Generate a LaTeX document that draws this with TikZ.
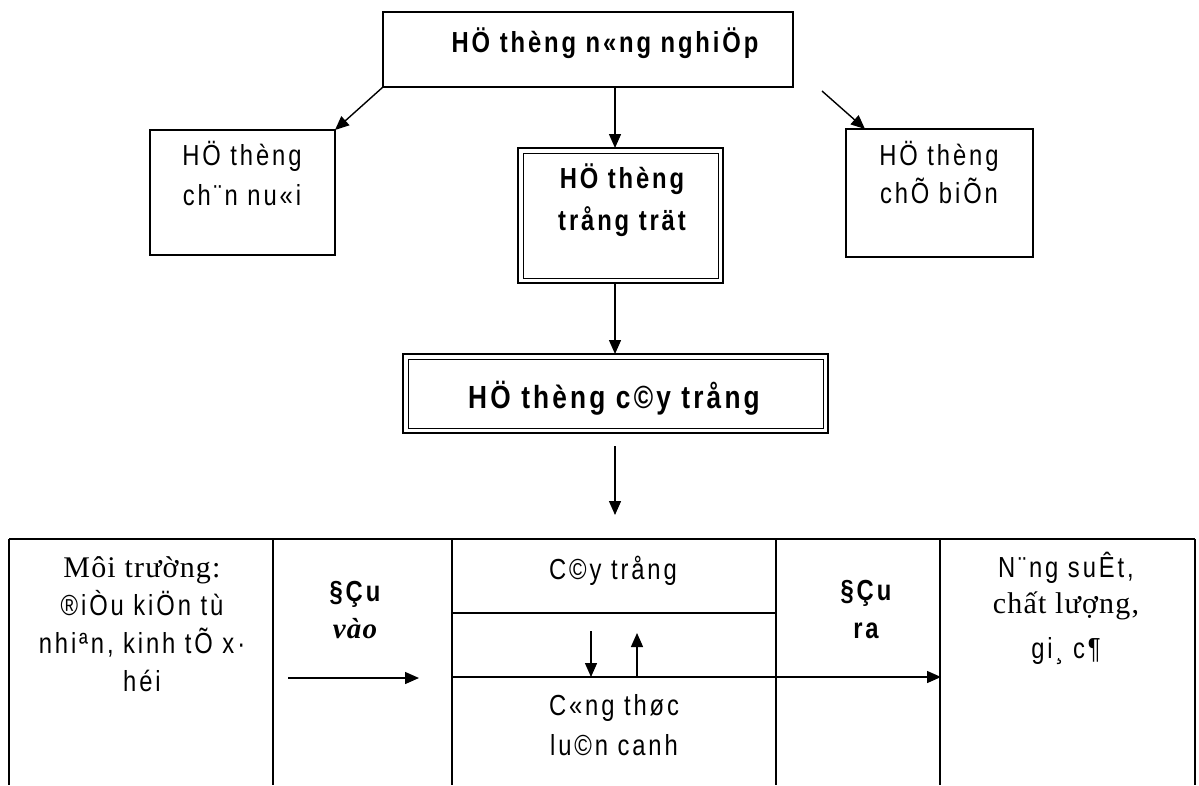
\documentclass[tikz,border=0pt]{standalone}
\usepackage{fontspec}
\setmainfont{Liberation Serif}
\newfontfamily\vnsans[FakeStretch=0.82,LetterSpace=10]{Liberation Sans}
\newfontfamily\vnserif[LetterSpace=4]{Liberation Serif}
\usetikzlibrary{arrows.meta,calc}
\tikzset{
  box/.style={draw, line width=1.5pt, inner sep=0pt, outer sep=0pt},
  dboxo/.style={draw, line width=2.4pt, inner sep=0pt, outer sep=0pt},
  dboxi/.style={line width=1pt},
  arr/.style={line width=1.4pt, -{Triangle[length=14pt,width=12pt]}},
  tline/.style={line width=1.5pt},
  txt/.style={anchor=base, inner sep=0pt, outer sep=0pt},
  sansr/.style={txt, font=\vnsans\fontsize{29}{34}\selectfont},
  sansb/.style={txt, font=\vnsans\bfseries\fontsize{29}{34}\selectfont},
  sansbig/.style={txt, font=\vnsans\bfseries\fontsize{32}{38}\selectfont},
  serifr/.style={txt, font=\vnserif\fontsize{30}{36}\selectfont},
  serifbi/.style={txt, font=\vnserif\bfseries\itshape\fontsize{29}{34}\selectfont},
}
\begin{document}
\begin{tikzpicture}[x=1pt,y=1pt]
\useasboundingbox (0,0) rectangle (1199,-785);
% boxes
\node[box, minimum width=410pt, minimum height=75pt] (top) at (588,-49.5) {};
\node[box, minimum width=185pt, minimum height=125pt] (lb) at (242.5,-192.5) {};
\node[box, minimum width=187pt, minimum height=128pt] (rb) at (939.5,-193) {};
\node[dboxo, minimum width=205pt, minimum height=135pt] (tt) at (620.5,-215.5) {};
\draw[dboxi] ($(tt.south west)+(5,5)$) rectangle ($(tt.north east)+(-5,-5)$);
\node[dboxo, minimum width=425pt, minimum height=79pt] (ct) at (615.5,-393.5) {};
\draw[dboxi] ($(ct.south west)+(5,5)$) rectangle ($(ct.north east)+(-5,-5)$);
% box texts
\node[sansb] (t1) at (605,-52) {HÖ thèng n«ng nghiÖp};
\node[sansr] (l1) at (242,-165) {HÖ thèng};
\node[sansr] (l2) at (242,-205) {ch¨n nu«i};
\node[sansr] (r1) at (939,-165) {HÖ thèng};
\node[sansr] (r2) at (939,-203) {chÕ biÕn};
\node[sansb] (tt1) at (622,-188) {HÖ thèng};
\node[sansb] (tt2) at (622,-230) {trång trät};
\begin{scope}
\clip (403,-354) rectangle (828,-415);
\node[sansbig] (ct1) at (614,-408) {HÖ thèng c©y trång};
\end{scope}
% connectors
\coordinate (r0) at (822,-91);
\coordinate (c0) at (615,-446);
\coordinate (c1) at (615,-515);
\coordinate (m0) at (615,-87);
\coordinate (m1) at (615,-283);
\draw[arr] (top.south west) -- (lb.north east);
\draw[arr] (r0) -- ([xshift=19pt]rb.north west);
\draw[arr] (m0) -- (m0 |- tt.north);
\draw[arr] (m1) -- (m1 |- ct.north);
\draw[arr] (c0) -- (c1);
% table
\draw[tline] (9,-539) -- (1195,-539);
\foreach \x in {9,273,452,776,940,1195} \draw[tline] (\x,-539) -- (\x,-785);
\draw[tline] (452,-613) -- (776,-613);
\draw[tline] (452,-677) -- (776,-677);
\coordinate (ia) at (288,-678);
\coordinate (ib) at (419,-678);
\draw[arr] (ia) -- (ib);
\coordinate (oa) at (776,-677);
\coordinate (ob) at (941,-677);
\draw[arr] (oa) -- (ob);
\coordinate (da) at (591,-631);
\coordinate (db) at (591,-677);
\draw[arr] (da) -- (db);
\coordinate (ua) at (637,-677);
\coordinate (ub) at (637,-633);
\draw[arr] (ua) -- (ub);
% table texts
\node[serifr] (e1) at (142,-577) {Môi trường:};
\node[sansr] (e2) at (142,-615) {®iÒu kiÖn tù};
\node[sansr] (e3) at (142,-653) {nhiªn, kinh tÕ x·};
\node[sansr] (e4) at (142,-691) {héi};
\node[sansb] (v1) at (355,-601) {§Çu};
\node[serifbi] (v2) at (355,-638) {vào};
\node[sansr] (m1t) at (613,-579) {C©y trång};
\node[sansr] (m2t) at (614,-715) {C«ng thøc};
\node[sansr] (m3t) at (614,-755) {lu©n canh};
\node[sansb] (o1) at (866,-600) {§Çu};
\node[sansb] (o2) at (866,-638) {ra};
\node[sansr] (n1) at (1066,-577) {N¨ng suÊt,};
\node[serifr] (n2) at (1066,-613) {chất lượng,};
\node[sansr] (n3) at (1066,-658) {gi¸ c¶};
\end{tikzpicture}
\end{document}
